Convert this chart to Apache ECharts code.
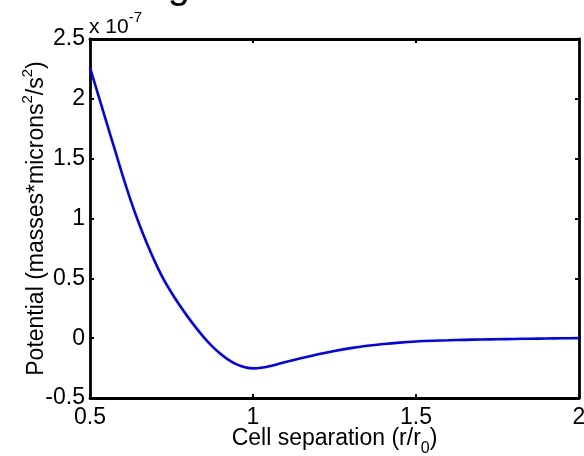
<!DOCTYPE html>
<html>
<head>
<meta charset="utf-8">
<script src="https://cdn.jsdelivr.net/npm/echarts@6/dist/echarts.min.js"></script>
<style>
  html, body { margin: 0; padding: 0; background: #fff; }
  #chart { width: 584px; height: 456px; }
</style>
</head>
<body>
<div id="chart"></div>
<script>
// cell separation r/r0
const separation = [0.500, 0.525, 0.550, 0.575, 0.600, 0.625, 0.650, 0.675, 0.700, 0.725, 0.750, 0.775, 0.800, 0.825, 0.850, 0.875, 0.900, 0.925, 0.950, 0.975, 1.000, 1.025, 1.050, 1.075, 1.100, 1.15, 1.20, 1.25, 1.30, 1.35, 1.40, 1.45, 1.50, 1.55, 1.60, 1.65, 1.70, 1.75, 1.80, 1.85, 1.90, 1.95, 2.00];
// potential, in units of 1e-7
const potential = [2.26, 2.035, 1.81, 1.585, 1.36, 1.15, 0.96, 0.788, 0.633, 0.495, 0.38, 0.275, 0.178, 0.088, 0.005, -0.069, -0.131, -0.181, -0.219, -0.243, -0.2525, -0.2475, -0.235, -0.2175, -0.199, -0.166, -0.135, -0.107, -0.083, -0.064, -0.049, -0.037, -0.028, -0.022, -0.018, -0.014, -0.011, -0.009, -0.0065, -0.0045, -0.003, -0.0013, 0.0];
const xTicks = { min: 0.5, max: 2, step: 0.5 };
const yTicks = { min: -0.5, max: 2.5, step: 0.5 };

const FONT = "'Liberation Sans', Arial, sans-serif";
const points = separation.map((x, i) => [x, potential[i]]);

const chart = echarts.init(document.getElementById('chart'), null, { renderer: 'canvas' });

const axisCommon = {
  type: 'value',
  axisLine: { show: true, onZero: false, lineStyle: { color: '#000', width: 2.8 } },
  axisTick: { show: true, inside: true, length: 4, lineStyle: { color: '#000', width: 2 } },
  splitLine: { show: false },
  axisLabel: { color: '#000', fontFamily: FONT, fontSize: 23 }
};

chart.setOption({
  animation: false,
  backgroundColor: '#fff',
  grid: { left: 90, right: 5, top: 39, bottom: 58, containLabel: false, outerBoundsMode: 'none' },
  graphic: [
    {
      type: 'text', left: 110, top: -33,
      style: { text: 'Single Cell Interaction Model', fill: '#000', fontFamily: FONT, fontSize: 40 }
    },
    {
      type: 'text', left: 89, top: 10,
      style: {
        text: '{a|x 10}{b|-7}',
        fill: '#000',
        rich: {
          a: { fontFamily: FONT, fontSize: 21, verticalAlign: 'bottom', lineHeight: 28 },
          b: { fontFamily: FONT, fontSize: 15, verticalAlign: 'top', lineHeight: 28 }
        }
      }
    }
  ],
  xAxis: [
    Object.assign({}, axisCommon, {
      min: xTicks.min, max: xTicks.max, interval: xTicks.step,
      position: 'bottom',
      axisLabel: Object.assign({}, axisCommon.axisLabel, { margin: 8 }),
      name: '{t|Cell separation (r/r}{s|0}{t|)}',
      nameLocation: 'middle',
      nameGap: 29,
      nameMoveOverlap: false,
      nameTextStyle: {
        rich: {
          t: { fontFamily: FONT, fontSize: 23, color: '#000', lineHeight: 30, verticalAlign: 'top' },
          s: { fontFamily: FONT, fontSize: 16, color: '#000', lineHeight: 30, verticalAlign: 'bottom' }
        }
      }
    }),
    Object.assign({}, axisCommon, {
      min: xTicks.min, max: xTicks.max, interval: xTicks.step,
      position: 'top',
      axisLabel: { show: false }
    })
  ],
  yAxis: [
    Object.assign({}, axisCommon, {
      min: yTicks.min, max: yTicks.max, interval: yTicks.step,
      position: 'left',
      axisLabel: Object.assign({}, axisCommon.axisLabel, { margin: 5 }),
      name: '{t|Potential (masses*microns}{p|2}{t|/s}{p|2}{t|)}',
      nameLocation: 'middle',
      nameRotate: 90,
      nameGap: 42,
      nameMoveOverlap: false,
      nameTextStyle: {
        rich: {
          t: { fontFamily: FONT, fontSize: 23, color: '#000', lineHeight: 28, verticalAlign: 'bottom' },
          p: { fontFamily: FONT, fontSize: 15, color: '#000', lineHeight: 28, verticalAlign: 'top' }
        }
      }
    }),
    Object.assign({}, axisCommon, {
      min: yTicks.min, max: yTicks.max, interval: yTicks.step,
      position: 'right',
      axisLabel: { show: false }
    })
  ],
  series: [
    {
      type: 'line',
      data: points,
      showSymbol: false,
      smooth: 0.3,
      lineStyle: { color: '#0000ff', width: 2.6 },
      clip: true
    }
  ]
});
</script>
</body>
</html>
